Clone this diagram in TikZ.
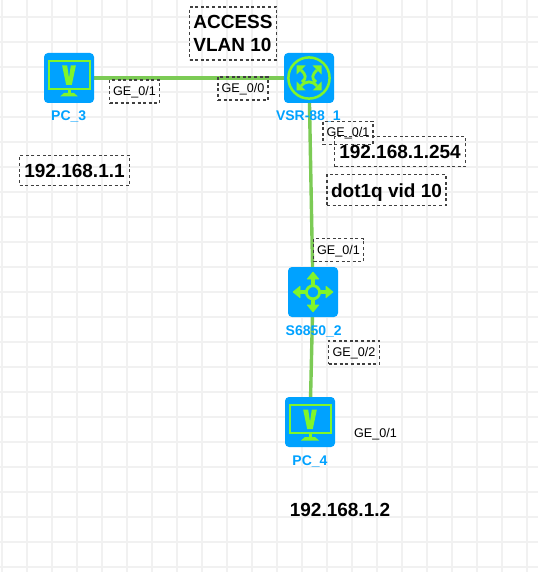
\documentclass[tikz,border=0pt]{standalone}
\usepackage{fontspec}
\setmainfont{Liberation Sans}
\usetikzlibrary{backgrounds}
\definecolor{iconblue}{HTML}{00A2FF}
\definecolor{icongreen}{HTML}{80F52A}
\definecolor{linkgreen}{HTML}{7CCB55}
\definecolor{gridgray}{HTML}{F1F1F1}
\definecolor{dashgray}{HTML}{404040}
\tikzset{
  x=1pt,y=-1pt,
  device/.style={fill=iconblue,rounded corners=4pt,minimum width=50pt,minimum height=50pt,inner sep=0pt,outer sep=0pt},
  devname/.style={text=iconblue,font=\fontsize{14}{16}\selectfont\bfseries,inner sep=0pt,anchor=base},
  link/.style={draw=linkgreen,line width=3.4pt},
  gridline/.style={draw=gridgray,line width=2.4pt},
  iconline/.style={draw=icongreen,line width=2.5pt},
  port/.style={draw=dashgray,dash pattern=on 3pt off 2.6pt,line width=1.1pt,font=\fontsize{12.6}{15}\selectfont,inner sep=0pt,text height=9pt,text depth=1pt,minimum width=50pt,minimum height=23pt},
  portplain/.style={font=\fontsize{12.6}{15}\selectfont,inner sep=0pt,text height=9pt,text depth=1pt},
  note/.style={draw=dashgray,dash pattern=on 3pt off 2.6pt,line width=1.1pt,font=\fontsize{19}{22.8}\selectfont\bfseries,inner sep=0pt},
  noteplain/.style={font=\fontsize{19}{22.8}\selectfont\bfseries,inner sep=0pt}
}
\newcommand{\pcicon}[1]{%
  \begin{scope}[shift={(#1)}]
    \draw[iconline] (-20,-17) rectangle (21,11);
    \fill[icongreen] (-6.9,-12.5) -- (-1.8,-12.5) -- (0,0) -- (1.8,-12.5) -- (6.9,-12.5) -- (2.8,7) -- (-2.8,7) -- cycle;
    \fill[icongreen] (-1.5,11) rectangle (1.5,16);
    \fill[icongreen] (-5,15) -- (5,15) -- (9,18.5) -- (-9,18.5) -- cycle;
  \end{scope}}
\newcommand{\switchicon}[1]{%
  \begin{scope}[shift={(#1)}]
    \foreach \a in {0,90,180,270}{\begin{scope}[rotate=\a]
      \fill[icongreen,draw=icongreen,line width=.9pt,line join=round] (-1.4,-6) -- (-1.4,-13) -- (-5.6,-13) -- (0,-19.8) -- (5.6,-13) -- (1.4,-13) -- (1.4,-6) -- cycle;
    \end{scope}}
    \draw[iconline,line width=2.8pt] (0,0.3) circle[radius=6.6];
  \end{scope}}
\newcommand{\routericon}[1]{%
  \begin{scope}[shift={(#1)}]
    \draw[iconline] (0,0) circle[radius=20.6];
    \foreach \a/\b in {-1/-1,1/-1,-1/1,1/1}{%
      \fill[icongreen] (12.5*\a,12.5*\b) -- (3.5*\a,12.5*\b) -- (12.5*\a,3.5*\b) -- cycle;}
    \draw[icongreen,line width=2.8pt]
      (-8,-8) .. controls (-3,-3) and (-2,0) .. (-7,4)
      (8,-8) .. controls (3,-3) and (2,0) .. (7,4)
      (-8,8) .. controls (-3,2.5) and (3,2.5) .. (8,8);
  \end{scope}}
\begin{document}
\begin{tikzpicture}
\useasboundingbox (0,0) rectangle (538,572);
% devices
\node[device] (pc3) at (69,78) {};
\node[device] (vsr) at (309,78) {};
\node[device] (sw) at (313,292) {};
\node[device] (pc4) at (310,422) {};
\begin{scope}[on background layer]
  \fill[white] (0,0) rectangle (538,572);
  \foreach \v in {2,27,...,527} \draw[gridline] (\v,0) -- (\v,572);
  \foreach \v in {17,42,...,567} \draw[gridline] (0,\v) -- (538,\v);
  \draw[link] (pc3) -- (vsr);
  \draw[link] (vsr) -- (sw);
  \draw[link] (sw) -- (pc4);
\end{scope}
\pcicon{69,78}
\pcicon{310,422}
\routericon{309,78}
\switchicon{313,292}
% device names
\node[devname] (n1) at (68.7,120.7) {PC\_3};
\node[devname] (n2) at (308.3,120.7) {VSR-88\_1};
\node[devname] (n3) at (313.7,335) {S6850\_2};
\node[devname] (n4) at (310,465) {PC\_4};
% port labels
\node[port] (p1) at (134.5,91.5) {GE\_0/1};
\node[port] (p2) at (243,88.5) {GE\_0/0};
\node[port] (p3) at (348,133) {GE\_0/1};
\node[port] (p4) at (338.5,250) {GE\_0/1};
\node[port,minimum width=51pt] (p5) at (354,352.5) {GE\_0/2};
\node[portplain] (p6) at (375.5,433) {GE\_0/1};
% notes
\node[note,minimum width=87pt,minimum height=53pt,align=left] (a1) at (233,33.5) {ACCESS\\VLAN 10};
\node[note,minimum width=110pt,minimum height=30pt] (a2) at (74.5,170.5) {192.168.1.1};
\node[note,minimum width=131pt,minimum height=30pt] (a3) at (400,151.5) {192.168.1.254};
\node[note,minimum width=119pt,minimum height=31pt,text height=14pt,text depth=0pt] (a4) at (386.5,190) {dot1q vid 10};
\node[noteplain] (a5) at (340,510) {192.168.1.2};
\end{tikzpicture}
\end{document}
